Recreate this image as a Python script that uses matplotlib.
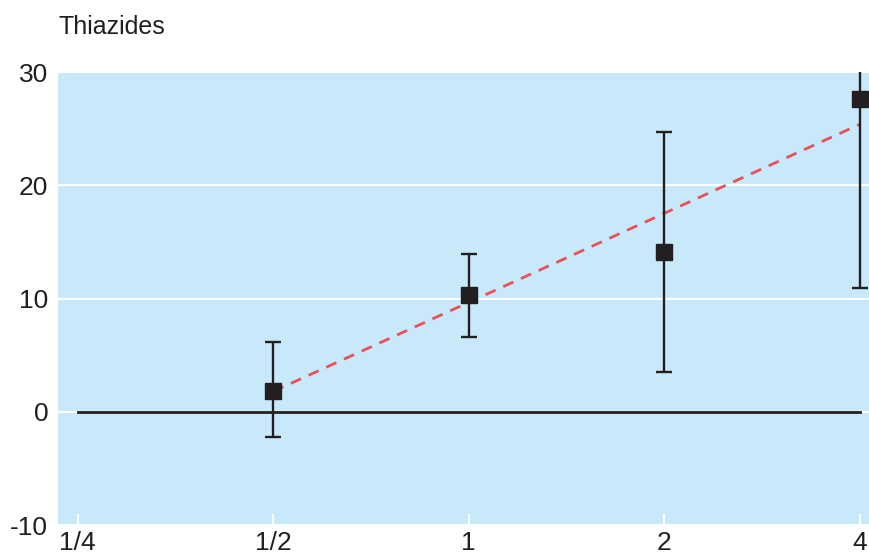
import numpy as np
import matplotlib.pyplot as plt

plt.rcParams['font.family'] = ['Liberation Sans', 'DejaVu Sans']
plt.rcParams['axes.unicode_minus'] = False

# dose multiples (log2 axis) and effect values
dose = [0.5, 1, 2, 4]
effect = [1.8, 10.3, 14.1, 27.6]
lower = [-2.2, 6.6, 3.5, 10.9]
upper = [6.2, 13.9, 24.7, 33.0]
trend = [1.8, 25.4]
tick_vals = [0.25, 0.5, 1, 2, 4]
tick_labels = ['1/4', '1/2', '1', '2', '4']

dark = '#231f20'

fig = plt.figure(figsize=(8.7, 5.55), dpi=100)
ax = fig.add_axes([0.0667, 0.054, 0.933, 0.816])
ax.set_facecolor('#c8e9f9')

lx = np.log2(dose)
yerr = [np.array(effect) - np.array(lower), np.array(upper) - np.array(effect)]

ax.plot([np.log2(tick_vals[0]), np.log2(tick_vals[-1])], [0, 0], color=dark, lw=2, zorder=3)
ax.plot([lx[0], lx[-1]], trend, color='#e8505b', lw=2, ls=(0, (4, 3)), zorder=4)
ax.errorbar(lx, effect, yerr=yerr, fmt='s', color=dark, ms=11, ecolor=dark,
            elinewidth=1.7, capsize=6, capthick=1.7, zorder=5)

ax.set_xlim(-2.1, 2.05)
ax.set_ylim(-10, 30)
ax.set_xticks(np.log2(tick_vals))
ax.set_xticklabels(tick_labels)
ax.set_yticks([-10, 0, 10, 20, 30])
ax.grid(axis='y', color='white', lw=1.5, zorder=1)
ax.set_axisbelow(True)
ax.tick_params(axis='x', direction='in', color='white', width=1.5, length=8,
               labelsize=19, pad=4, labelcolor=dark)
ax.tick_params(axis='y', length=0, labelsize=19, pad=7, labelcolor=dark)
for s in ax.spines.values():
    s.set_visible(False)

fig.text(0.067, 0.93, 'Thiazides', fontsize=18, color=dark, ha='left', va='bottom')

fig.savefig('out.png', dpi=100)
